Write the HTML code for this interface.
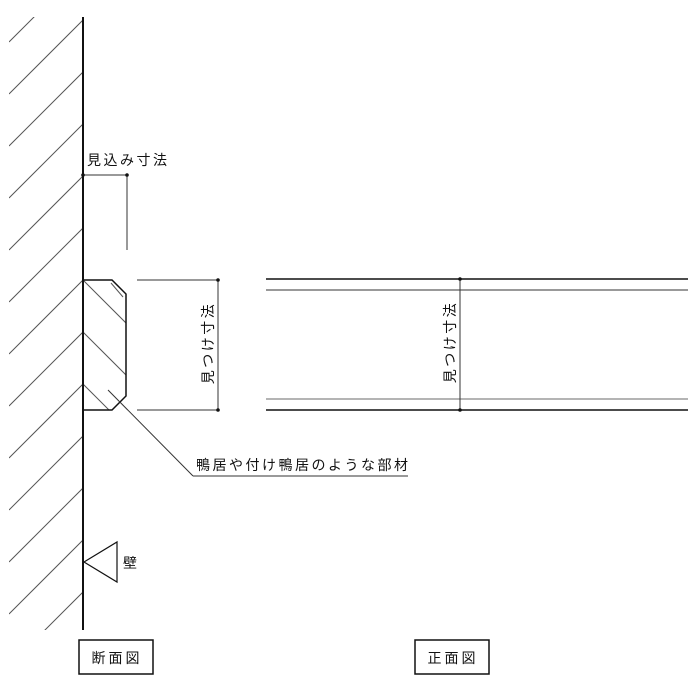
<!DOCTYPE html>
<html><head><meta charset="utf-8"><style>
html,body{margin:0;background:#fff;overflow:hidden;width:700px;height:700px;}
svg{display:block;}
text{font-family:"Liberation Sans","Noto Sans CJK JP",sans-serif;fill:#111;}
</style></head><body>
<svg width="700" height="700" viewBox="0 0 700 700" xmlns="http://www.w3.org/2000/svg">
<defs>
<clipPath id="w"><rect x="9" y="17" width="74" height="613"/></clipPath>
<clipPath id="m"><polygon points="83,280 112,280 126,294 126,396 112,410 83,410"/></clipPath>
</defs>
<g clip-path="url(#w)" stroke="#555" stroke-width="1">
<line x1="9" y1="42" x2="83" y2="-32"/>
<line x1="9" y1="94" x2="83" y2="20"/>
<line x1="9" y1="146" x2="83" y2="72"/>
<line x1="9" y1="198" x2="83" y2="124"/>
<line x1="9" y1="250" x2="83" y2="176"/>
<line x1="9" y1="302" x2="83" y2="228"/>
<line x1="9" y1="354" x2="83" y2="280"/>
<line x1="9" y1="406" x2="83" y2="332"/>
<line x1="9" y1="458" x2="83" y2="384"/>
<line x1="9" y1="510" x2="83" y2="436"/>
<line x1="9" y1="562" x2="83" y2="488"/>
<line x1="9" y1="614" x2="83" y2="540"/>
<line x1="9" y1="666" x2="83" y2="592"/>
</g>
<g clip-path="url(#m)" stroke="#555" stroke-width="1">
<line x1="83" y1="228" x2="183" y2="328"/>
<line x1="83" y1="280" x2="183" y2="380"/>
<line x1="83" y1="332" x2="183" y2="432"/>
<line x1="83" y1="384" x2="183" y2="484"/>
</g>
<polygon points="83,280 112,280 126,294 126,396 112,410 83,410" fill="none" stroke="#111" stroke-width="1.5"/>
<line x1="111" y1="283" x2="123" y2="297" stroke="#555"/>
<line x1="108" y1="390" x2="193" y2="476" stroke="#333"/>
<line x1="193" y1="476" x2="408" y2="476" stroke="#333"/>
<text x="196" y="470" font-size="14" letter-spacing="2.5">鴨居や付け鴨居のような部材</text>
<line x1="83" y1="17" x2="83" y2="630" stroke="#111" stroke-width="2"/>
<line x1="83" y1="175" x2="127" y2="175" stroke="#333"/>
<line x1="127" y1="175" x2="127" y2="250" stroke="#333"/>
<circle cx="83" cy="175" r="1.8" fill="#111"/><circle cx="127" cy="175" r="1.8" fill="#111"/>
<text x="87" y="165" font-size="14" letter-spacing="2.5">見込み寸法</text>
<line x1="137" y1="280" x2="218" y2="280" stroke="#333"/>
<line x1="137" y1="410" x2="218" y2="410" stroke="#333"/>
<line x1="218" y1="280" x2="218" y2="410" stroke="#333"/>
<circle cx="218" cy="280" r="1.8" fill="#111"/><circle cx="218" cy="410" r="1.8" fill="#111"/>
<text transform="translate(213,343) rotate(-90)" font-size="14" text-anchor="middle" letter-spacing="2.5">見つけ寸法</text>
<line x1="266" y1="279" x2="688" y2="279" stroke="#111" stroke-width="1.5"/>
<line x1="266" y1="290" x2="688" y2="290" stroke="#333"/>
<line x1="266" y1="399" x2="688" y2="399" stroke="#888" stroke-width="1.2"/>
<line x1="266" y1="410" x2="688" y2="410" stroke="#111" stroke-width="1.5"/>
<line x1="460" y1="279" x2="460" y2="410" stroke="#333"/>
<circle cx="460" cy="279" r="1.8" fill="#111"/><circle cx="460" cy="410" r="1.8" fill="#111"/>
<text transform="translate(455,342) rotate(-90)" font-size="14" text-anchor="middle" letter-spacing="2.5">見つけ寸法</text>
<polygon points="84,562 117,542 117,582" fill="#fff" stroke="#111" stroke-width="1.2"/>
<text x="123" y="568" font-size="14">壁</text>
<rect x="79" y="640" width="74" height="34" fill="none" stroke="#111" stroke-width="1.5"/>
<text x="117" y="663" font-size="14" text-anchor="middle" letter-spacing="3">断面図</text>
<rect x="415" y="640" width="74" height="34" fill="none" stroke="#111" stroke-width="1.5"/>
<text x="453" y="663" font-size="14" text-anchor="middle" letter-spacing="3">正面図</text>
</svg>
</body></html>
